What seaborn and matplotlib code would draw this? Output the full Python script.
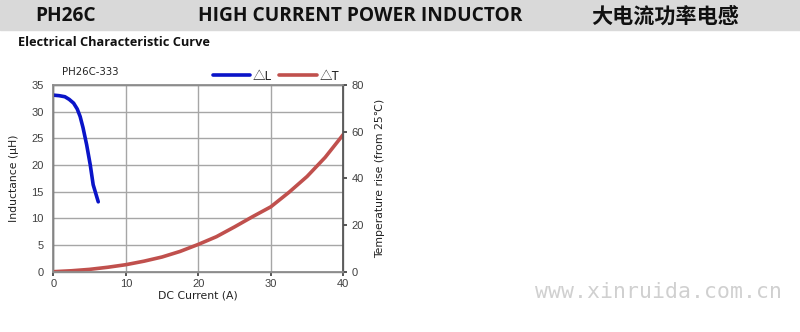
import matplotlib
matplotlib.use("Agg")
import matplotlib.pyplot as plt
import seaborn as sns
import pandas as pd

# data
l_current = [0, 0.8, 1.6, 2.2, 2.8, 3.3, 3.7, 4.1, 4.6, 5.1, 5.5, 6.2]
l_inductance = [33.1, 33.0, 32.8, 32.3, 31.6, 30.5, 29.1, 27.0, 23.8, 20.0, 16.3, 13.1]
t_current = [0, 2.5, 5, 7.5, 10, 12.5, 15, 17.5, 20, 22.5, 25, 27.5, 30, 32.5, 35, 37.5, 40]
t_rise = [0, 0.4, 1.0, 1.9, 3.0, 4.5, 6.3, 8.7, 11.7, 15.0, 19.2, 23.6, 27.8, 34.0,
          40.8, 49.0, 58.8]
x_ticks = [0, 10, 20, 30, 40]
left_ticks = [0, 5, 10, 15, 20, 25, 30, 35]
right_ticks = [0, 20, 40, 60, 80]

sns.set_theme(style="white")
plt.rcParams['font.family'] = ['DejaVu Sans', 'Noto Sans CJK SC']

W, H = 800, 332
fig = plt.figure(figsize=(W / 100, H / 100), dpi=100)

def fx(px):
    return px / W

def fy(py):
    return 1 - py / H

# header band
fig.patches.append(plt.Rectangle((0, fy(30)), 1, 30 / H, transform=fig.transFigure,
                                 color="#d9d9d9", zorder=0))
fig.text(fx(35), fy(16), "PH26C", fontsize=13.8, fontweight="bold", family="Open Sans",
         va="center", ha="left", color="#111111")
fig.text(fx(198), fy(16), "HIGH CURRENT POWER INDUCTOR", fontsize=13.8, fontweight="bold",
         family="Open Sans", va="center", ha="left", color="#111111")
fig.text(fx(591), fy(16), "大电流功率电感", fontsize=15.2, fontweight="bold",
         family=["Noto Sans CJK SC"], va="center", ha="left", color="#111111")
fig.text(fx(18), fy(43), "Electrical Characteristic Curve", fontsize=9.2, fontweight="bold",
         family="Open Sans", va="center", ha="left", color="#111111")

ax = fig.add_axes([fx(53.3), fy(271.7), fx(343.3) - fx(53.3), (271.7 - 85) / H])
dfl = pd.DataFrame({"I": l_current, "L": l_inductance})
dft = pd.DataFrame({"I": t_current, "T": t_rise})
sns.lineplot(data=dfl, x="I", y="L", ax=ax, color="#0a14c8", linewidth=2.6, label="△L",
             legend=False, solid_joinstyle="round", solid_capstyle="round")
ax.set_xlim(0, 40)
ax.set_ylim(0, 35)
ax.set_xticks(x_ticks)
ax.set_yticks(left_ticks)
ax.grid(True, color="#a6a6a6", linewidth=1)
for s in ax.spines.values():
    s.set_color("#8c8c8c")
    s.set_linewidth(1)
ax.spines["left"].set_color("#555555")
ax.tick_params(axis="x", labelsize=8, colors="#404040", length=3, direction="out",
               bottom=True, pad=2)
ax.tick_params(axis="y", labelsize=8, colors="#404040", length=0, left=False, pad=7)
for lab in ax.get_xticklabels() + ax.get_yticklabels():
    lab.set_family("Liberation Sans")
ax.set_xlabel("DC Current (A)", fontsize=7.8, color="#222222", labelpad=1)
ax.set_ylabel("Inductance (μH)", fontsize=7.8, color="#222222", labelpad=9)

ax2 = ax.twinx()
sns.lineplot(data=dft, x="I", y="T", ax=ax2, color="#c0504d", linewidth=2.6, label="△T",
             legend=False, solid_joinstyle="round", solid_capstyle="round")
ax2.set_ylim(0, 80)
ax2.set_yticks(right_ticks)
ax2.tick_params(axis="y", labelsize=8, colors="#404040", length=3, direction="out",
                right=True, pad=3)
for lab in ax2.get_yticklabels():
    lab.set_family("Liberation Sans")
ax2.set_ylabel("Temperature rise (from 25℃)", fontsize=7.8, color="#222222", labelpad=8,
               family=["DejaVu Sans", "Noto Sans CJK SC"])
for s in ax2.spines.values():
    s.set_color("#8c8c8c")
ax2.spines["right"].set_color("#555555")

fig.text(fx(62), fy(72), "PH26C-333", fontsize=7.3, color="#222222", va="center", ha="left")

h1, lab1 = ax.get_legend_handles_labels()
h2, lab2 = ax2.get_legend_handles_labels()
leg = ax2.legend(h1 + h2, lab1 + lab2, loc="center", bbox_to_anchor=(fx(276), fy(76)),
                 bbox_transform=fig.transFigure, ncol=2, frameon=False,
                 prop={"family": ["Noto Sans CJK SC", "DejaVu Sans"], "size": 9},
                 handlelength=3.0, handletextpad=0.2, columnspacing=0.6)
for t in leg.get_texts():
    t.set_color("#222222")

fig.text(fx(535), fy(292), "www.xinruida.com.cn", fontsize=15.5, family="DejaVu Sans Mono",
         color="#d0d0d0", va="center", ha="left")

fig.savefig("out.png", dpi=100)
